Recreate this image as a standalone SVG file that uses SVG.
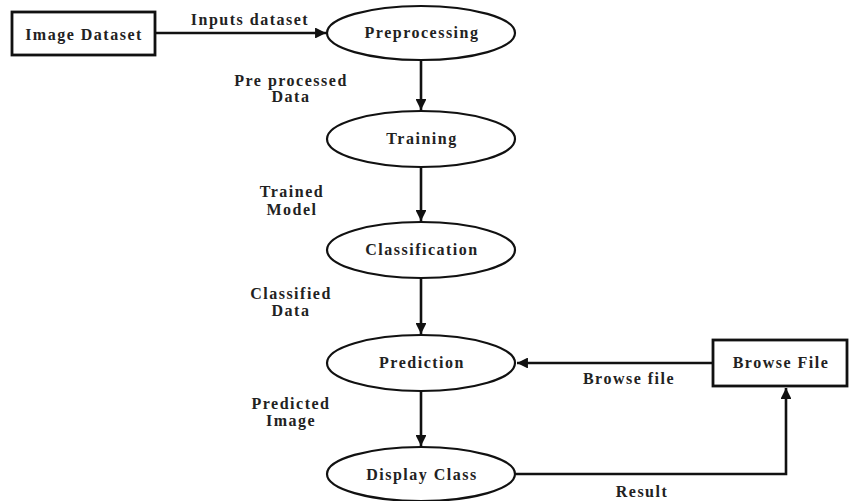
<svg xmlns="http://www.w3.org/2000/svg" width="849" height="501" viewBox="0 0 849 501">
<style>
text{font-family:"Liberation Serif","DejaVu Serif",serif;font-weight:bold;font-size:16px;letter-spacing:1.5px;fill:#222;text-anchor:middle}
.box{fill:#fff;stroke:#111;stroke-width:2.8}
.ell{fill:#fff;stroke:#111;stroke-width:2.2}
.edge{fill:none;stroke:#111;stroke-width:2.6}
</style>
<defs>
<marker id="arr" viewBox="0 0 10 10" refX="10" refY="5" markerWidth="4.2" markerHeight="4.2" orient="auto" markerUnits="strokeWidth">
<path d="M0,0 L10,5 L0,10 z" fill="#111"/>
</marker>
</defs>
<rect width="849" height="501" fill="#fff"/>
<g id="connectors">
<line class="edge" x1="155" y1="33" x2="326" y2="33" marker-end="url(#arr)"/>
<line class="edge" x1="421" y1="60" x2="421" y2="110" marker-end="url(#arr)"/>
<line class="edge" x1="421" y1="167" x2="421" y2="221" marker-end="url(#arr)"/>
<line class="edge" x1="421" y1="278" x2="421" y2="334" marker-end="url(#arr)"/>
<line class="edge" x1="421" y1="391" x2="421" y2="446" marker-end="url(#arr)"/>
<line class="edge" x1="713" y1="363" x2="517" y2="363" marker-end="url(#arr)"/>
<polyline class="edge" points="516,474 786,474 786,388" marker-end="url(#arr)"/>
<text x="250" y="25">Inputs dataset</text>
<text x="291" y="86">Pre processed</text>
<text x="291" y="102">Data</text>
<text x="292" y="197">Trained</text>
<text x="292" y="215">Model</text>
<text x="291" y="299">Classified</text>
<text x="291" y="316">Data</text>
<text x="291" y="409">Predicted</text>
<text x="291" y="426">Image</text>
<text x="629" y="384">Browse file</text>
<text x="642" y="497">Result</text>
</g>
<g id="image-dataset">
<rect class="box" x="12" y="12" width="143" height="43"/>
<text x="84" y="40">Image Dataset</text>
</g>
<g id="preprocessing">
<ellipse class="ell" cx="421" cy="33" rx="94" ry="27"/>
<text x="422" y="38">Preprocessing</text>
</g>
<g id="training">
<ellipse class="ell" cx="421" cy="139" rx="94" ry="28"/>
<text x="422" y="144">Training</text>
</g>
<g id="classification">
<ellipse class="ell" cx="421" cy="250" rx="94" ry="28"/>
<text x="422" y="255">Classification</text>
</g>
<g id="prediction">
<ellipse class="ell" cx="421" cy="363" rx="94" ry="28"/>
<text x="422" y="368">Prediction</text>
</g>
<g id="display-class">
<ellipse class="ell" cx="421" cy="474" rx="94" ry="27"/>
<text x="422" y="480">Display Class</text>
</g>
<g id="browse-file">
<rect class="box" x="713" y="340" width="134" height="46"/>
<text x="781" y="368">Browse File</text>
</g>
</svg>
